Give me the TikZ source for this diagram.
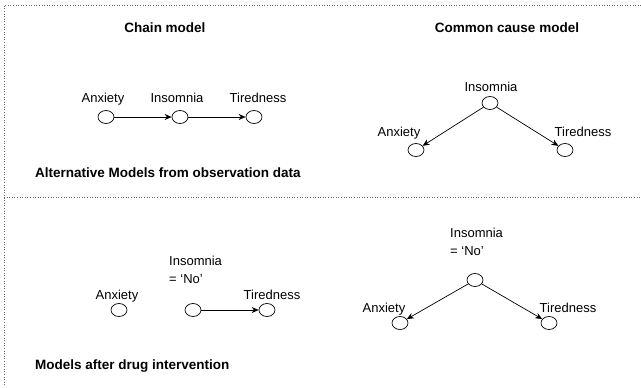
\documentclass[tikz,border=0pt]{standalone}
\usepackage{fontspec}
\setmainfont{Liberation Sans}
\usetikzlibrary{shapes.geometric,arrows.meta}

\begin{document}
\begin{tikzpicture}[
        % 像素坐标, y 向下
        x=1bp, y=-1bp,
        font=\fontsize{13bp}{17.5bp}\selectfont,
        var/.style={draw, ellipse, fill=white, minimum width=16bp, minimum height=13bp, inner sep=0pt, line width=0.7bp},
        tag/.style={anchor=base, inner sep=0pt},
        title/.style={anchor=base, inner sep=0pt, font=\fontsize{13.5bp}{16bp}\selectfont\bfseries},
        frameLine/.style={dotted, line width=0.6bp, black!60},
        % 箭头样式
        cause/.style={->, >={Stealth[length=7bp, width=6bp]}, line width=0.7bp}
    ]
        \useasboundingbox (0,0) rectangle (641,387);

        % --- 1. 虚线边框 ---
        \draw[frameLine] (641,5) -- (4,5) -- (4,386);
        \draw[frameLine] (4,197) -- (641,197);

        % --- 2. 标题 ---
        \node[title] (tChain) at (165,32) {Chain model};
        \node[title] (tCommon) at (507,32) {Common cause model};
        \node[title, anchor=base west] (tObs) at (35,177) {Alternative Models from observation data};
        \node[title, anchor=base west] (tDrug) at (35,369) {Models after drug intervention};

        % --- 3. 链模型 (观察) ---
        \node[var] (anxChain) at (106,117) {};
        \node[var] (insChain) at (180,117) {};
        \node[var] (tirChain) at (254,117) {};
        \node[tag] (lAnxChain) at (103,102) {Anxiety};
        \node[tag] (lInsChain) at (177,102) {Insomnia};
        \node[tag] (lTirChain) at (258,102) {Tiredness};
        \draw[cause] (anxChain) -- (insChain);
        \draw[cause] (insChain) -- (tirChain);

        % --- 4. 共因模型 (观察) ---
        \node[var] (insCommon) at (490,103) {};
        \node[var] (anxCommon) at (416,150) {};
        \node[var] (tirCommon) at (565,150) {};
        \node[tag] (lInsCommon) at (491,91) {Insomnia};
        \node[tag] (lAnxCommon) at (399,136) {Anxiety};
        \node[tag] (lTirCommon) at (583,136) {Tiredness};
        \draw[cause] (insCommon) -- (anxCommon);
        \draw[cause] (insCommon) -- (tirCommon);

        % --- 5. 链模型 (干预后) ---
        \node[var] (anxChainDo) at (119,310) {};
        \node[var] (insChainDo) at (193,310) {};
        \node[var] (tirChainDo) at (267,310) {};
        \node[tag] (lAnxChainDo) at (117,299) {Anxiety};
        \node[tag, anchor=west, align=left] (lInsChainDo) at (169,270) {Insomnia\\= ‘No’};
        \node[tag] (lTirChainDo) at (272,299) {Tiredness};
        \draw[cause] (insChainDo) -- (tirChainDo);

        % --- 6. 共因模型 (干预后) ---
        \node[var] (insCommonDo) at (475,280) {};
        \node[var] (anxCommonDo) at (400,323) {};
        \node[var] (tirCommonDo) at (549,323) {};
        \node[tag, anchor=west, align=left] (lInsCommonDo) at (450,242) {Insomnia\\= ‘No’};
        \node[tag] (lAnxCommonDo) at (384,312) {Anxiety};
        \node[tag] (lTirCommonDo) at (568,312) {Tiredness};
        \draw[cause] (insCommonDo) -- (anxCommonDo);
        \draw[cause] (insCommonDo) -- (tirCommonDo);

\end{tikzpicture}
\end{document}
